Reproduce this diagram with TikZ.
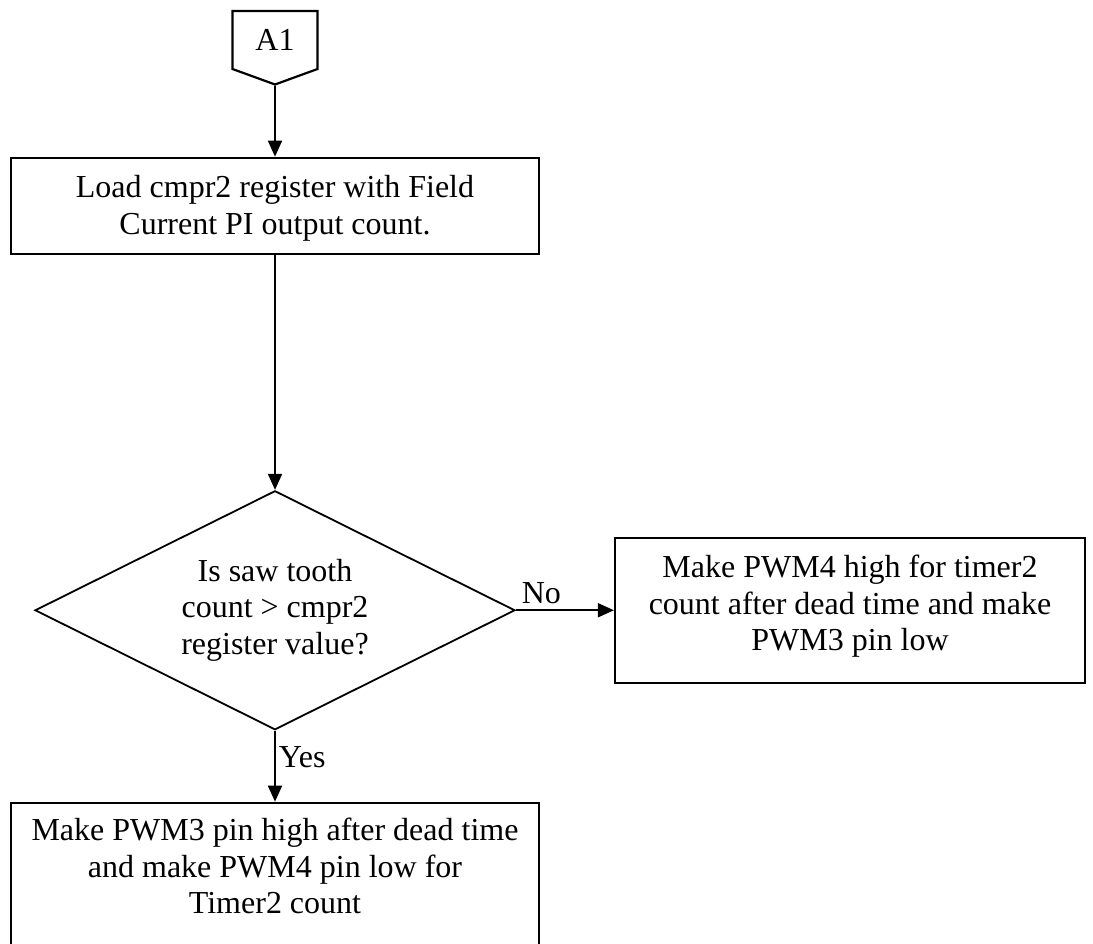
\documentclass[tikz,border=0pt]{standalone}
\usepackage{fontspec}
\setmainfont{Liberation Serif}
\usepackage{tikz}
\usetikzlibrary{
        arrows.meta,
        positioning,
        shapes.geometric,
        shapes.symbols
    }
\tikzset{>={Triangle[length=16pt,width=14pt]}}
\tikzset{every node/.style={font=\fontsize{32}{36.5}\selectfont}}

\begin{document}
\begin{tikzpicture}[line width=1.8pt]
        % text height runs up to the last line's baseline
        \tikzset{box/.style={draw,rectangle,line width=2.2pt,align=center,inner xsep=0pt,inner ysep=12pt}}
        \tikzset{decision/.style={draw,diamond,aspect=2,minimum width=480pt,minimum height=239pt,inner sep=0pt,align=center}}
        \useasboundingbox (0,0) rectangle (1093pt,-943pt);
        \node[draw,signal,signal to=south,signal pointer angle=140,line width=2.2pt,
              inner xsep=23pt,inner ysep=18.5pt,text height=21pt,text depth=0pt] (a1) at (275pt,-40pt) {A1};
        \node[box,minimum width=528pt,text height=64.5pt,text depth=7.5pt] (ld) [below=71pt of a1]
            {Load cmpr2 register with Field\\Current PI output count.};
        \node[decision] (cmp) [below=235pt of ld] {Is saw tooth\\count > cmpr2\\register value?};
        \node[box,minimum width=470pt,text height=101pt,text depth=20pt] (pwm4) [right=98pt of cmp]
            {Make PWM4 high for timer2\\count after dead time and make\\PWM3 pin low};
        \node[box,minimum width=528pt,text height=99pt,text depth=40pt] (pwm3) [below=71pt of cmp]
            {Make PWM3 pin high after dead time\\and make PWM4 pin low for\\Timer2 count};
        \path[->]
            (a1)  edge (ld)
            (ld)  edge (cmp)
            (cmp) edge node[pos=0,anchor=south west,inner xsep=5pt,inner ysep=6pt] {No} (pwm4)
            (cmp) edge node[pos=0.38,anchor=west,inner xsep=3pt] {Yes} (pwm3)
        ;
\end{tikzpicture}
\end{document}
